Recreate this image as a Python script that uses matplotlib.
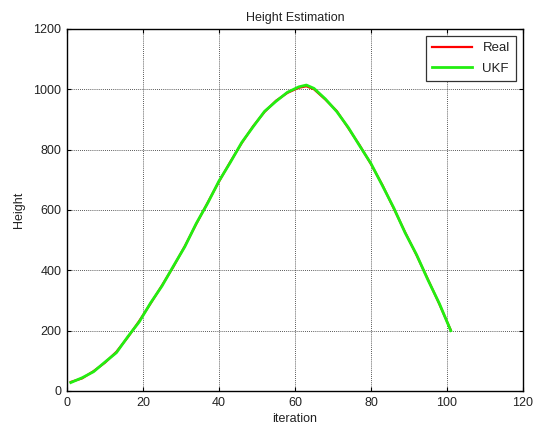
import matplotlib
matplotlib.use("Agg")
import matplotlib.pyplot as plt

plt.rcParams['font.family'] = ['Liberation Sans', 'DejaVu Sans']

iterations = [1, 4, 7, 10, 13, 16, 19, 22, 25, 28, 31, 34, 37, 40, 43, 46, 49, 52,
              55, 58, 61, 63, 65, 68, 71, 74, 77, 80, 83, 86, 89, 92, 95, 98, 101]
real_height = [30, 42, 66, 94, 130, 178, 232, 290, 350, 412, 480, 553, 624, 694, 760,
               822, 878, 925, 962, 988, 1005, 1010, 1000, 966, 928, 872, 815, 752, 683,
               605, 526, 450, 370, 288, 202]
ukf_height = [28, 44, 64, 96, 127, 180, 229, 292, 348, 414, 478, 555, 622, 696, 758,
              824, 876, 927, 960, 990, 1008, 1014, 1003, 968, 926, 874, 813, 754, 681,
              607, 524, 452, 368, 290, 200]

x_ticks = [0, 20, 40, 60, 80, 100, 120]
y_ticks = [0, 200, 400, 600, 800, 1000, 1200]

fig = plt.figure(figsize=(5.37, 4.30), dpi=100)
ax = fig.add_axes([0.1248, 0.0907, 0.849, 0.842])

ax.plot(iterations, real_height, color='#ff0000', lw=1.6, label='Real')
ax.plot(iterations, ukf_height, color='#22ee11', lw=2.0, label='UKF')

ax.set_xlim(0, 120)
ax.set_ylim(0, 1200)
ax.set_xticks(x_ticks)
ax.set_yticks(y_ticks)
ax.tick_params(direction='in', top=True, right=True, labelsize=9, length=3, width=0.8,
               pad=4, labelcolor='#222222')
ax.grid(True, color='#222222', linestyle=(0, (1, 1.5)), linewidth=0.6)
for s in ax.spines.values():
    s.set_linewidth(1.0)
    s.set_color('black')

ax.set_title('Height Estimation', fontsize=9, pad=6, color='#222222')
ax.set_xlabel('iteration', fontsize=9, labelpad=3, color='#222222')
ax.set_ylabel('Height', fontsize=9, labelpad=6, color='#222222')

leg = ax.legend(loc='upper right', fontsize=9.5, fancybox=False, framealpha=1,
                edgecolor='#333333', handlelength=3.0, borderaxespad=0.5,
                labelspacing=0.6, borderpad=0.5)
leg.get_frame().set_linewidth(0.9)
for t in leg.get_texts():
    t.set_color('#222222')

fig.savefig('out.png', dpi=100)
